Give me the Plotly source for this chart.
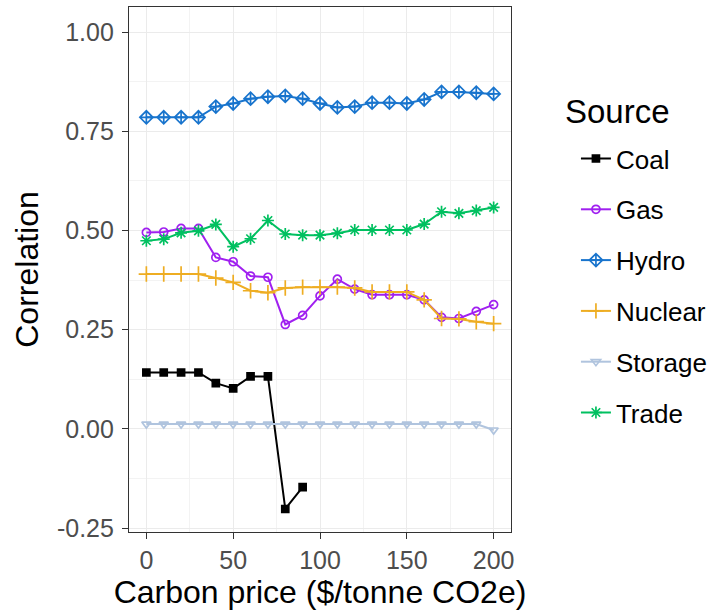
import plotly.graph_objects as go

price = [0, 10, 20, 30, 40, 50, 60, 70, 80, 90, 100, 110, 120, 130, 140, 150, 160, 170, 180, 190, 200]

coal_x = [0, 10, 20, 30, 40, 50, 60, 70, 80, 90]
coal = [0.142, 0.142, 0.142, 0.142, 0.115, 0.102, 0.132, 0.132, -0.202, -0.147]
gas = [0.495, 0.496, 0.505, 0.505, 0.432, 0.421, 0.385, 0.382, 0.263, 0.286, 0.335, 0.377,
       0.352, 0.338, 0.338, 0.338, 0.325, 0.281, 0.278, 0.296, 0.313]
hydro = [0.785, 0.785, 0.785, 0.785, 0.812, 0.820, 0.832, 0.837, 0.839, 0.832, 0.820, 0.810,
         0.812, 0.822, 0.822, 0.820, 0.830, 0.849, 0.849, 0.847, 0.844]
nuclear = [0.390, 0.390, 0.390, 0.390, 0.380, 0.369, 0.348, 0.343, 0.355, 0.357, 0.357, 0.357,
           0.355, 0.345, 0.345, 0.345, 0.325, 0.278, 0.277, 0.270, 0.265]
storage = [0.012, 0.012, 0.012, 0.012, 0.012, 0.012, 0.012, 0.012, 0.012, 0.012, 0.012, 0.012,
           0.012, 0.012, 0.012, 0.012, 0.012, 0.012, 0.012, 0.012, -0.003]
trade = [0.474, 0.478, 0.494, 0.499, 0.515, 0.459, 0.479, 0.525, 0.491, 0.488, 0.488, 0.493,
         0.501, 0.501, 0.501, 0.501, 0.516, 0.547, 0.543, 0.550, 0.558]

series = [
    ("Coal", coal_x, coal, "#000000", "square", 7),
    ("Gas", price, gas, "#A020F0", "circle-open", 8),
    ("Hydro", price, hydro, "#1874CD", "diamond-cross-open", 10),
    ("Nuclear", price, nuclear, "#EEAD22", "cross-thin-open", 11),
    ("Storage", price, storage, "#B0C4DE", "triangle-down-open", 8),
    ("Trade", price, trade, "#00C060", "asterisk-open", 10),
]

FONT = "Liberation Sans, Arial, sans-serif"

fig = go.Figure()
for i, (name, xs, ys, col, sym, sz) in enumerate(series):
    fig.add_trace(go.Scatter(
        x=xs, y=ys, name=name, mode="lines+markers",
        line=dict(color=col, width=2),
        marker=dict(symbol=sym, size=sz, color=col, line=dict(color=col, width=1.7)),
        legendgroup=name,
    ))

axis_common = dict(
    showline=True, linecolor="#333333", linewidth=1.2, mirror=True,
    ticks="outside", ticklen=6, tickcolor="#333333", tickwidth=1.2,
    tickfont=dict(family=FONT, size=25, color="#4D4D4D"),
    gridcolor="#EBEBEB", gridwidth=1.3, zeroline=False,
)

fig.update_layout(
    width=717, height=614,
    margin=dict(l=129, r=206, t=7, b=82, autoexpand=False),
    paper_bgcolor="white", plot_bgcolor="white",
    font=dict(family=FONT, color="black"),
    xaxis=dict(range=[-10, 210], tickvals=[0, 50, 100, 150, 200],
               title=dict(text="Carbon price ($/tonne CO2e)", font=dict(size=32, color="black"), standoff=0),
               minor=dict(dtick=25, tick0=25, showgrid=True, gridcolor="#F3F3F3", gridwidth=1, ticks=""),
               **axis_common),
    yaxis=dict(range=[-0.26, 1.063], tickvals=[-0.25, 0, 0.25, 0.5, 0.75, 1.0],
               ticktext=["-0.25", "0.00", "0.25", "0.50", "0.75", "1.00"],
               ticklabelstandoff=3,
               title=dict(text="Correlation", font=dict(size=32, color="black"), standoff=8),
               minor=dict(dtick=0.125, tick0=0.125, showgrid=True, gridcolor="#F3F3F3", gridwidth=1, ticks=""),
               **axis_common),
    legend=dict(
        x=1.17, y=0.756, xanchor="left", yanchor="top",
        font=dict(size=26, color="black"),
        tracegroupgap=14, itemsizing="trace",
        bgcolor="rgba(0,0,0,0)",
    ),
    annotations=[dict(
        text="Source", xref="paper", yref="paper", x=1.136, y=0.8,
        xanchor="left", yanchor="middle", showarrow=False,
        font=dict(size=33, color="black", family=FONT),
    )],
)

fig.write_html("out.html")
